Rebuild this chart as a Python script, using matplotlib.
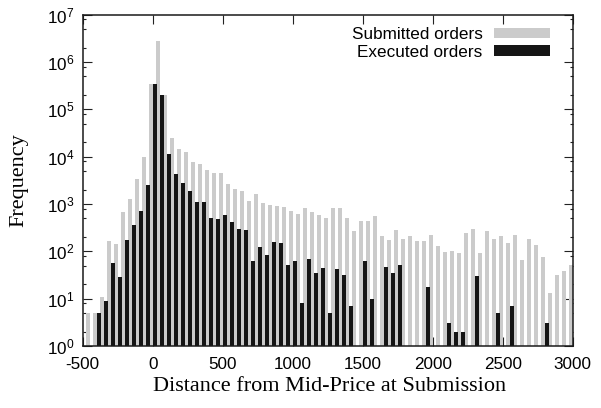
import numpy as np
import matplotlib
matplotlib.use('Agg')
import matplotlib.pyplot as plt
from matplotlib.ticker import LogLocator, MultipleLocator, NullFormatter, NullLocator

plt.rcParams['font.family'] = 'Liberation Sans'
plt.rcParams['axes.unicode_minus'] = False

# 50-wide bins of distance from the mid-price, -500 .. 3000
bin_width = 50
bin_start = np.arange(-500, 3000, bin_width)

submitted = [
    5, 5, 11, 165, 144, 680, 1280, 3400, 10000, 345000,
    2800000, 200000, 25000, 14500, 12600, 7700, 7000, 5300, 4500, 4500,
    2700, 2100, 1900, 1170, 1600, 1050, 960, 910, 870, 710,
    600, 830, 680, 590, 510, 830, 830, 510, 270, 440,
    440, 560, 210, 174, 280, 182, 210, 166, 166, 222,
    130, 97, 102, 93, 245, 295, 93, 270, 182, 213,
    150, 222, 66, 182, 137, 76, 13, 32, 38, 51,
]
executed = [
    0, 0, 5, 9, 58, 29, 174, 367, 725, 2500,
    345000, 200000, 11500, 4400, 2800, 1900, 1120, 1120, 510, 480,
    590, 410, 295, 280, 63, 124, 84, 161, 150, 51,
    63, 8, 69, 35, 45, 5, 43, 32, 7, 0,
    63, 10, 0, 47, 35, 51, 0, 0, 0, 18,
    0, 0, 3, 2, 2, 0, 30, 0, 0, 5,
    0, 7, 0, 0, 0, 0, 3, 0, 0, 0,
]

submitted = np.array(submitted, dtype=float)
executed = np.array(executed, dtype=float)

fig = plt.figure(figsize=(6.01, 4.08), dpi=100)
ax = fig.add_axes([0.1376, 0.152, 0.8153, 0.812])

gray = '#cbcbcb'
black = '#151515'
bw = 28.5

ax.set_yscale('log')
s = submitted > 0
e = executed > 0
hs = ax.bar(bin_start[s] + bin_width - bw, submitted[s], width=bw, align='edge',
            color=gray, linewidth=0, zorder=1, label='Submitted orders')
he = ax.bar(bin_start[e], executed[e], width=bw, align='edge',
            color=black, linewidth=0, zorder=2, label='Executed orders')

ax.set_xlim(-500, 3000)
ax.set_ylim(1, 1e7)
ax.set_axisbelow(True)

ax.xaxis.set_major_locator(MultipleLocator(500))
ax.xaxis.set_minor_locator(NullLocator())
ax.yaxis.set_major_locator(LogLocator(base=10, numticks=10))
ax.yaxis.set_minor_locator(LogLocator(base=10, subs=(2, 5, 8), numticks=10))
ax.yaxis.set_minor_formatter(NullFormatter())

ax.tick_params(which='both', direction='in', top=True, right=True,
               width=0.8, color='#222222', labelsize=12.3)
ax.tick_params(which='major', length=6.5)
ax.tick_params(which='minor', length=2.5)
ax.tick_params(axis='x', pad=8)
ax.tick_params(axis='y', pad=6)

for sp in ax.spines.values():
    sp.set_linewidth(1.1)
    sp.set_color('#1a1a1a')

ax.set_xlabel('Distance from Mid-Price at Submission', family='Liberation Serif',
              fontsize=16, va='center')
ax.xaxis.set_label_coords(0.504, -0.122)
ax.set_ylabel('Frequency', family='Liberation Serif', fontsize=16, va='center')
ax.yaxis.set_label_coords(-0.13, 0.5)

ax.legend(handles=[hs, he], loc='upper right', bbox_to_anchor=(0.9537, 0.963),
          frameon=False, markerfirst=False, borderpad=0, borderaxespad=0,
          handlelength=3.3, handleheight=0.6, handletextpad=0.64,
          labelspacing=0.15, fontsize=12.3)

fig.savefig('out.png', dpi=100)
